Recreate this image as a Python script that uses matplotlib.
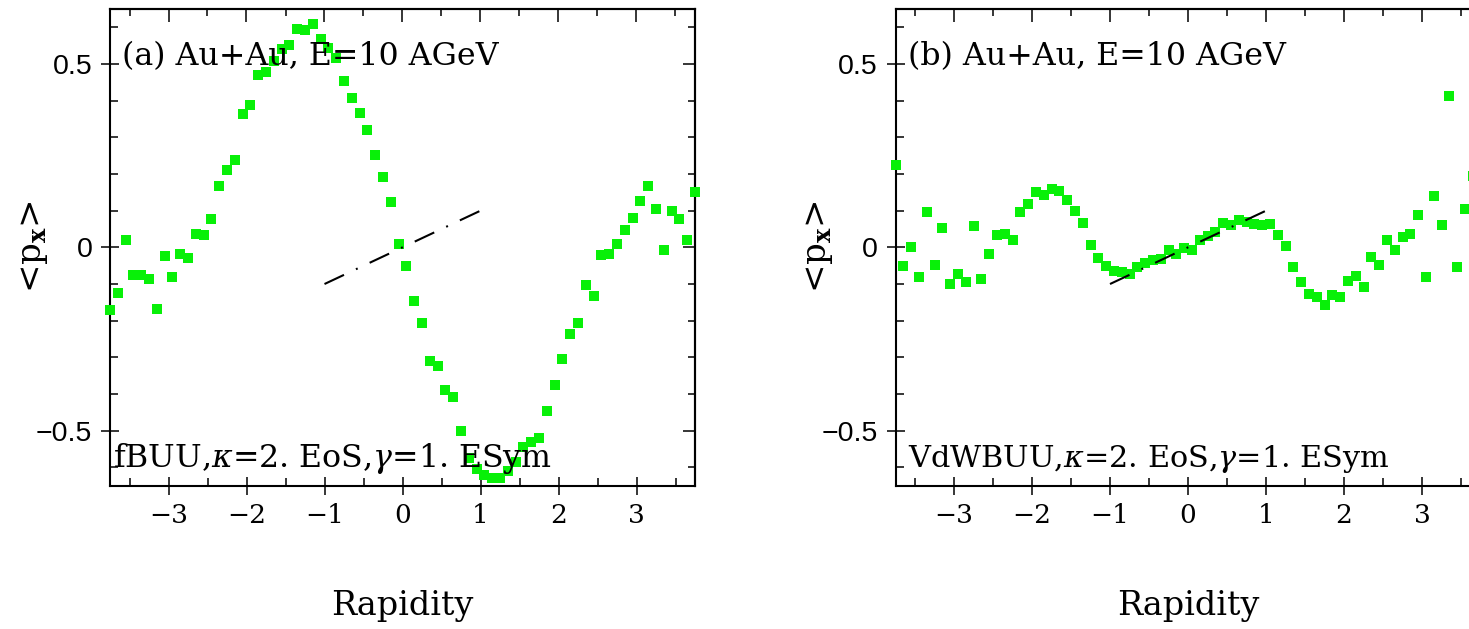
import matplotlib
matplotlib.use("Agg")
import matplotlib.pyplot as plt
from matplotlib.ticker import MultipleLocator

# ---- data -------------------------------------------------------------
rapidity_a = [-3.75, -3.65, -3.55, -3.45, -3.35, -3.25, -3.15, -3.05, -2.95, -2.85,
              -2.75, -2.65, -2.55, -2.45, -2.35, -2.25, -2.15, -2.05, -1.95, -1.85,
              -1.75, -1.65, -1.55, -1.45, -1.35, -1.25, -1.15, -1.05, -0.95, -0.85,
              -0.75, -0.65, -0.55, -0.45, -0.35, -0.25, -0.15, -0.05, 0.05, 0.15,
              0.25, 0.35, 0.45, 0.55, 0.65, 0.75, 0.85, 0.95, 1.05, 1.15,
              1.25, 1.35, 1.45, 1.55, 1.65, 1.75, 1.85, 1.95, 2.05, 2.15,
              2.25, 2.35, 2.45, 2.55, 2.65, 2.75, 2.85, 2.95, 3.05, 3.15,
              3.25, 3.35, 3.45, 3.55, 3.65, 3.75]
px_fbuu = [-0.171, -0.124, 0.021, -0.076, -0.076, -0.085, -0.168, -0.024, -0.082, -0.019,
           -0.029, 0.036, 0.034, 0.076, 0.167, 0.212, 0.239, 0.365, 0.388, 0.470,
           0.479, 0.508, 0.540, 0.551, 0.596, 0.592, 0.608, 0.567, 0.545, 0.517,
           0.454, 0.408, 0.367, 0.320, 0.252, 0.191, 0.123, 0.010, -0.051, -0.146,
           -0.207, -0.309, -0.323, -0.390, -0.408, -0.502, -0.575, -0.605, -0.620, -0.630,
           -0.630, -0.610, -0.585, -0.545, -0.530, -0.520, -0.447, -0.375, -0.304, -0.235,
           -0.206, -0.103, -0.132, -0.022, -0.017, 0.010, 0.046, 0.080, 0.126, 0.166,
           0.105, -0.006, 0.099, 0.076, 0.021, 0.150]

rapidity_b = rapidity_a[:-1]
px_vdwbuu = [0.225, -0.052, 0.001, -0.081, 0.096, -0.048, 0.053, -0.101, -0.072, -0.095,
             0.057, -0.087, -0.017, 0.035, 0.037, 0.021, 0.096, 0.117, 0.152, 0.144,
             0.158, 0.153, 0.128, 0.098, 0.067, 0.007, -0.029, -0.052, -0.064, -0.067,
             -0.072, -0.053, -0.044, -0.035, -0.031, -0.008, -0.017, -0.003, -0.006, 0.019,
             0.030, 0.043, 0.067, 0.060, 0.075, 0.069, 0.064, 0.062, 0.064, 0.033,
             0.005, -0.053, -0.094, -0.126, -0.135, -0.158, -0.130, -0.135, -0.091, -0.079,
             -0.108, -0.026, -0.049, 0.019, -0.006, 0.028, 0.037, 0.089, -0.082, 0.141,
             0.060, 0.413, -0.053, 0.105, 0.195]

# reference slope line  <p_x> = 0.1 * y  for |y| <= 1
slope_y = [-1.0, 1.0]
slope_px = [-0.1, 0.1]

x_major = [-3, -2, -1, 0, 1, 2, 3]
y_major = [-0.5, 0.0, 0.5]
y_major_labels = ["\u22120.5", "0", "0.5"]

panel_titles = ["(a) Au+Au, E=10 AGeV", "(b) Au+Au, E=10 AGeV"]
panel_models = [r"fBUU,$\kappa$=2. EoS,$\gamma$=1. ESym",
                r"VdWBUU,$\kappa$=2. EoS,$\gamma$=1. ESym"]

# ---- style ------------------------------------------------------------
plt.rcParams["mathtext.fontset"] = "dejavuserif"
plt.rcParams["lines.scale_dashes"] = False
SERIF = ["DejaVu Serif"]
SANS = ["Liberation Sans", "DejaVu Sans"]
GREEN = "#08f008"

fig = plt.figure(figsize=(14.69, 6.29), dpi=100)
W, H = 1469.0, 629.0
ax_w, ax_h = 585.0, 476.7
ax_bottom = (H - 485.7) / H
lefts = [110.0, 895.5]

series = [(rapidity_a, px_fbuu), (rapidity_b, px_vdwbuu)]
title_x = [0.021, 0.022]
model_x = [0.005, 0.021]
model_size = [22.8, 21.8]
ylabel_x = [34.0, 819.0]

for i in range(2):
    ax = fig.add_axes([lefts[i] / W, ax_bottom, ax_w / W, ax_h / H])
    x, y = series[i]
    ax.plot(x, y, linestyle="none", marker="s", ms=7.4, mew=0,
            color=GREEN, clip_on=False, zorder=3)
    ax.plot(slope_y, slope_px, color="black", lw=1.5,
            dashes=[15.5, 9.5, 1.4, 9.5], zorder=4)

    ax.set_xlim(-3.75, 3.75)
    ax.set_ylim(-0.65, 0.65)
    ax.set_xticks(x_major)
    ax.set_yticks(y_major)
    ax.set_yticklabels(y_major_labels)
    ax.xaxis.set_minor_locator(MultipleLocator(0.5))
    ax.yaxis.set_minor_locator(MultipleLocator(0.1))
    ax.tick_params(which="major", direction="inout", length=13.5, width=1.1,
                   top=False, right=False, pad=3)
    ax.tick_params(which="minor", direction="in", length=5.5, width=1.1,
                   top=False, right=False)
    for lab in ax.get_xticklabels():
        lab.set_fontfamily(SERIF)
        lab.set_fontsize(19)
    for lab in ax.get_yticklabels():
        lab.set_fontfamily(SANS)
        lab.set_fontsize(20.5)
    ax.tick_params(axis="x", pad=6)
    ax.tick_params(axis="y", pad=6)
    for sp in ax.spines.values():
        sp.set_linewidth(1.5)

    # inward ticks on the top and right frame
    top = ax.secondary_xaxis("top")
    top.set_xticks(x_major)
    top.xaxis.set_minor_locator(MultipleLocator(0.5))
    top.tick_params(which="major", direction="in", length=9, width=1.1, labeltop=False)
    top.tick_params(which="minor", direction="in", length=5, width=1.1)
    right = ax.secondary_yaxis("right")
    right.set_yticks(y_major)
    right.yaxis.set_minor_locator(MultipleLocator(0.1))
    right.tick_params(which="major", direction="in", length=9, width=1.1, labelright=False)
    right.tick_params(which="minor", direction="in", length=5, width=1.1)
    top.spines["top"].set_linewidth(1.5)
    right.spines["right"].set_linewidth(1.5)

    ax.text(title_x[i], 0.8825, panel_titles[i], transform=ax.transAxes,
            fontfamily=SERIF, fontsize=22.8, va="baseline", ha="left", zorder=5)
    ax.text(model_x[i], 0.04, panel_models[i], transform=ax.transAxes,
            fontfamily=SERIF, fontsize=model_size[i], va="baseline", ha="left", zorder=5)

    ax.set_xlabel("Rapidity", fontfamily=SERIF, fontsize=24, labelpad=44)
    fig.text(ylabel_x[i] / W, (H - 247.0) / H, r"<p$_{\mathbf{x}}$>",
             rotation=90, ha="center", va="center", fontfamily=SERIF, fontsize=24.5)

fig.savefig("out.png", dpi=100)
